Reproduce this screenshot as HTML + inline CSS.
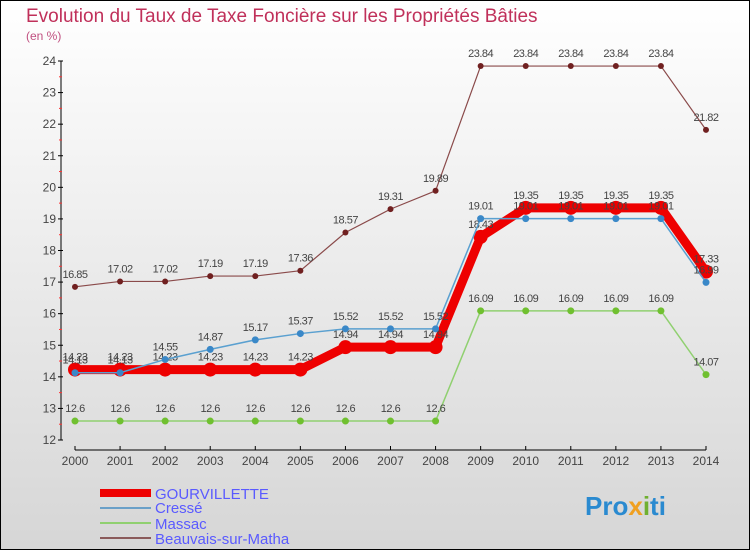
<!DOCTYPE html>
<html><head><meta charset="utf-8"><style>
body{margin:0;}
#c{width:750px;height:550px;position:relative;overflow:hidden;}
svg text{font-family:"Liberation Sans",sans-serif;}
</style></head><body>
<div id="c">
<svg id="s" width="750" height="550" xmlns="http://www.w3.org/2000/svg">
<defs><linearGradient id="bg" x1="0" y1="0" x2="0" y2="1"><stop offset="0" stop-color="#ffffff"/><stop offset="1" stop-color="#d6d6d6"/></linearGradient></defs>
<rect x="0.5" y="0.5" width="749" height="549" fill="url(#bg)" stroke="#000"/>
<text x="26" y="22" font-size="19" fill="#c0305a">Evolution du Taux de Taxe Foncière sur les Propriétés Bâties</text>
<text x="26" y="40" font-size="12" fill="#c05080">(en %)</text>
<g id="axes"></g><g id="series"></g>
<g>
<rect x="100" y="489" width="51" height="8" fill="#e00"/>
<text x="155" y="499" font-size="15" fill="#5a5aff">GOURVILLETTE</text>
<line x1="100" y1="508" x2="151" y2="508" stroke="#6aa0c8" stroke-width="2"/>
<text x="155" y="513" font-size="15" fill="#5a5aff">Cressé</text>
<line x1="100" y1="523" x2="151" y2="523" stroke="#90d070" stroke-width="2"/>
<text x="155" y="529" font-size="15" fill="#5a5aff">Massac</text>
<line x1="100" y1="538" x2="151" y2="538" stroke="#8a5a5a" stroke-width="2"/>
<text x="155" y="544" font-size="15" fill="#5a5aff">Beauvais-sur-Matha</text>
</g>
<text x="585" y="515" font-size="26" font-weight="bold" fill="#2a8ad0">Pro<tspan fill="#f0a020">x</tspan><tspan fill="#70b030">i</tspan>ti</text>
</svg>
</div>
<script>
const years=[2000,2001,2002,2003,2004,2005,2006,2007,2008,2009,2010,2011,2012,2013,2014];
const yTicks=[12,13,14,15,16,17,18,19,20,21,22,23,24];
const gourvillette=[14.23,14.23,14.23,14.23,14.23,14.23,14.94,14.94,14.94,18.43,19.35,19.35,19.35,19.35,17.33];
const cresse=[14.13,14.13,14.55,14.87,15.17,15.37,15.52,15.52,15.52,19.01,19.01,19.01,19.01,19.01,16.99];
const massac=[12.6,12.6,12.6,12.6,12.6,12.6,12.6,12.6,12.6,16.09,16.09,16.09,16.09,16.09,14.07];
const beauvais=[16.85,17.02,17.02,17.19,17.19,17.36,18.57,19.31,19.89,23.84,23.84,23.84,23.84,23.84,21.82];
const NS='http://www.w3.org/2000/svg';
const X=i=>75+i*(706-75)/(years.length-1);
const Y=v=>440-(v-12)*(440-61)/12;
function mk(t,a,p){const e=document.createElementNS(NS,t);for(const k in a)e.setAttribute(k,a[k]);p.appendChild(e);return e;}
const ax=document.getElementById('axes'),sg=document.getElementById('series');
const yl=mk('line',{x1:61,y1:Y(24),x2:61,y2:Y(12),stroke:'#000'},ax);


yTicks.forEach(t=>{
  mk('line',{x1:58,y1:Y(t),x2:63,y2:Y(t),stroke:'#000'},ax);
  if(t<24)mk('line',{x1:59,y1:Y(t+0.5),x2:62,y2:Y(t+0.5),stroke:'#f33'},ax);
  const tx=mk('text',{x:56,y:Y(t)+4,'font-size':12,fill:'#444','text-anchor':'end'},ax);tx.textContent=t;
  
  
});
const xl=mk('line',{x1:X(0),y1:450,x2:X(years.length-1),y2:450,stroke:'#000'},ax);


years.forEach((y,i)=>{
  mk('line',{x1:X(i),y1:446,x2:X(i),y2:450,stroke:'#000'},ax);
  const tx=mk('text',{x:X(i),y:465,'font-size':12,fill:'#444','text-anchor':'middle'},ax);tx.textContent=y;
  
  
});
function series(vals,color,w,r,dot,name){
  const g=mk('g',{},sg);
  
  
  mk('polyline',{points:vals.map((v,i)=>X(i)+','+Y(v)).join(' '),fill:'none',stroke:color,'stroke-width':w,'stroke-linejoin':'round'},g);
  vals.forEach((v,i)=>{
    const c=mk('circle',{cx:X(i),cy:Y(v),r:r,fill:dot},g);
    
    
    const t=mk('text',{x:X(i),y:Y(v)-9,'font-size':11,fill:'#444','text-anchor':'middle','letter-spacing':'-0.5'},g);t.textContent=v;
  });
}
series(massac,'#90d070',1.5,3.5,'#70c030','massac');
series(beauvais,'#8a4a4a',1.2,3,'#702020','beauvais');
series(gourvillette,'#ee0000',9,7,'#ee0000','gourvillette');
series(cresse,'#5aa0d0',1.5,3.5,'#3a88c8','cresse');
</script>
</body></html>
